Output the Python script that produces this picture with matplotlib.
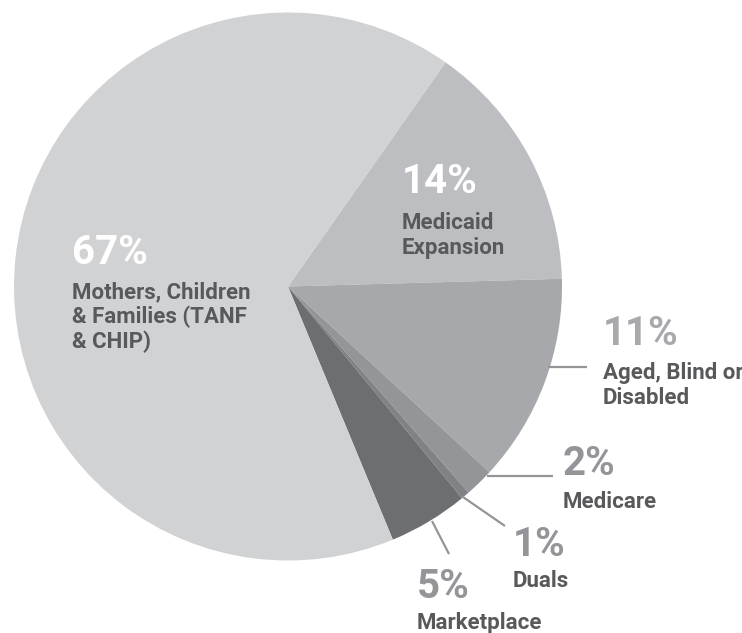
import matplotlib
matplotlib.use("Agg")
import matplotlib.pyplot as plt

plt.rcParams["font.family"] = ["Liberation Sans Narrow", "Roboto", "DejaVu Sans"]
plt.rcParams["font.weight"] = "bold"

# slice shares as drawn (clockwise from the top right), and the printed labels
categories = ["Medicaid Expansion", "Aged, Blind or Disabled", "Medicare",
              "Duals", "Marketplace", "Mothers, Children & Families (TANF & CHIP)"]
shares = [14.8, 12.3, 1.7, 0.5, 4.7, 66.0]
pct_labels = ["14%", "11%", "2%", "1%", "5%", "67%"]
name_labels = ["Medicaid\nExpansion", "Aged, Blind or\nDisabled", "Medicare",
               "Duals", "Marketplace", "Mothers, Children\n& Families (TANF\n& CHIP)"]
slice_colors = ["#bdbec1", "#a7a8ab", "#939598", "#808285", "#6d6e71", "#d1d2d4"]

W, H = 742, 633
fig = plt.figure(figsize=(W / 100, H / 100), dpi=100)
ax = fig.add_axes([0, 0, 1, 1])

cx, cy, r = 288, H - 286.5, 274
ax.pie(shares, colors=slice_colors, startangle=54.9, counterclock=False,
       center=(cx, cy), radius=r, wedgeprops=dict(linewidth=0))
ax.set_xlim(0, W)
ax.set_ylim(0, H)
ax.set_aspect("equal")
ax.axis("off")

dark = "#58595b"
pct_gray = ["white", "#a7a9ac", "#939598", "#939598", "#939598", "white"]

# label anchors in picture pixels: x, baseline of the percent, baseline of first name line
anchors = [(402, 193, 229), (603, 345, 379), (563, 475, 508),
           (513, 556, 587), (417, 598, 629), (72, 264, 298)]
line_gap = 25

for pct, name, col, (x, yb, yn) in zip(pct_labels, name_labels, pct_gray, anchors):
    ax.text(x, H - yb, pct, fontsize=29, color=col, va="baseline", ha="left")
    for i, line in enumerate(name.split("\n")):
        ax.text(x, H - (yn + i * line_gap), line, fontsize=16, color=dark,
                va="baseline", ha="left")

# leader lines for the outside labels
leaders = [((548, 367), (587, 367)), ((487, 476), (553, 476)),
           ((463, 497), (505, 526)), ((432, 521), (449, 554))]
for (x0, y0), (x1, y1) in leaders:
    ax.plot([x0, x1], [H - y0, H - y1], color="#939598", linewidth=1.6,
            solid_capstyle="butt")

fig.savefig("out.png", dpi=100)
